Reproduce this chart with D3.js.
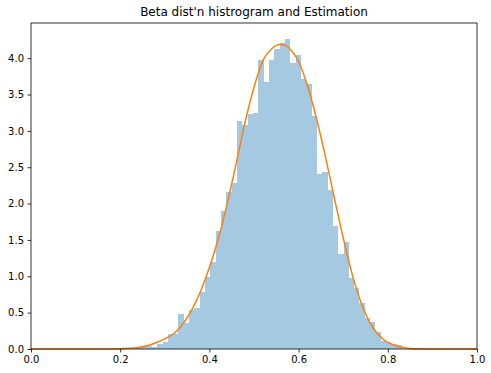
<!DOCTYPE html>
<html>
<head>
<meta charset="utf-8">
<script src="https://cdn.jsdelivr.net/npm/d3@7"></script>
<style>
  html, body { margin: 0; padding: 0; background: #fff; }
  svg { display: block; font-family: "DejaVu Sans", sans-serif; }
</style>
</head>
<body>
<svg id="chart" width="491" height="373"></svg>
<script>
// ---- data ----
const title = "Beta dist'n histrogram and Estimation";
const binEdges = [0.2352, 0.2471, 0.2591, 0.2710, 0.2829, 0.2949, 0.3068, 0.3188, 0.3307, 0.3426,
  0.3546, 0.3665, 0.3784, 0.3904, 0.4023, 0.4142, 0.4262, 0.4381, 0.4501, 0.4620,
  0.4739, 0.4859, 0.4978, 0.5097, 0.5217, 0.5336, 0.5455, 0.5575, 0.5694, 0.5813,
  0.5933, 0.6052, 0.6172, 0.6291, 0.6410, 0.6530, 0.6649, 0.6768, 0.6888, 0.7007,
  0.7126, 0.7246, 0.7365, 0.7485, 0.7604, 0.7723, 0.7843, 0.7962, 0.8081, 0.8201, 0.8320];
const binDensity = [0.008, 0.04, 0.04, 0.03, 0.07, 0.10, 0.21, 0.21, 0.48, 0.36,
  0.54, 0.56, 0.79, 0.99, 1.19, 1.62, 1.90, 2.16, 2.28, 3.14,
  3.08, 3.23, 3.25, 3.97, 3.67, 3.97, 4.12, 4.21, 4.27, 3.94,
  4.05, 3.71, 3.64, 3.21, 2.40, 2.43, 2.18, 1.69, 1.30, 1.47,
  0.98, 0.84, 0.63, 0.42, 0.37, 0.23, 0.11, 0.10, 0.07, 0.05];
const curveX = [0.00, 0.10, 0.15, 0.20, 0.22, 0.24, 0.26, 0.28, 0.30, 0.32, 0.34, 0.36, 0.38,
  0.40, 0.42, 0.44, 0.46, 0.48, 0.50, 0.52, 0.54, 0.56, 0.58, 0.60, 0.62, 0.64, 0.66,
  0.68, 0.70, 0.72, 0.74, 0.76, 0.78, 0.80, 0.82, 0.84, 0.86, 0.90, 0.95, 1.00];
const curveY = [0.000, 0.000, 0.001, 0.004, 0.010, 0.022, 0.045, 0.085, 0.14, 0.21, 0.34, 0.53, 0.79,
  1.12, 1.52, 2.00, 2.55, 3.12, 3.60, 3.97, 4.13, 4.19, 4.13, 3.95, 3.62, 3.17, 2.65,
  2.08, 1.53, 1.03, 0.64, 0.36, 0.19, 0.09, 0.04, 0.015, 0.005, 0.001, 0.000, 0.000];
const xTicks = [0.0, 0.2, 0.4, 0.6, 0.8, 1.0];
const yTicks = [0.0, 0.5, 1.0, 1.5, 2.0, 2.5, 3.0, 3.5, 4.0];

// ---- layout ----
const W = 491, H = 373;
const m = { left: 31, right: 14, top: 23, bottom: 24 };
const svg = d3.select("#chart");
const x = d3.scaleLinear().domain([0, 1]).range([m.left, W - m.right]);
const yMax = d3.max(binDensity) * 1.05;
const y = d3.scaleLinear().domain([0, yMax]).range([H - m.bottom, m.top]);

// bars
const bins = binDensity.map((v, i) => ({ x0: binEdges[i], x1: binEdges[i + 1], v }));
svg.append("g").selectAll("rect").data(bins).enter().append("rect")
  .attr("x", d => x(d.x0))
  .attr("width", d => x(d.x1) - x(d.x0))
  .attr("y", d => y(d.v))
  .attr("height", d => y(0) - y(d.v))
  .attr("fill", "#1f77b4")
  .attr("fill-opacity", 0.4)
  .attr("shape-rendering", "crispEdges");

// fitted curve
const pts = curveX.map((cx, i) => [cx, curveY[i]]);
svg.append("path")
  .datum(pts)
  .attr("fill", "none")
  .attr("stroke", "#ff7f0e")
  .attr("stroke-width", 1.5)
  .attr("d", d3.line().x(d => x(d[0])).y(d => y(d[1])).curve(d3.curveMonotoneX));

// axes
const xAxis = d3.axisBottom(x).tickValues(xTicks).tickFormat(d3.format(".1f")).tickSizeOuter(0).tickSize(3.5).tickPadding(3.5);
const yAxis = d3.axisLeft(y).tickValues(yTicks).tickFormat(d3.format(".1f")).tickSizeOuter(0).tickSize(3.5).tickPadding(3.5);
const gx = svg.append("g").attr("transform", `translate(0,${H - m.bottom})`).call(xAxis);
const gy = svg.append("g").attr("transform", `translate(${m.left},0)`).call(yAxis);
[gx, gy].forEach(g => {
  g.select(".domain").remove();
  g.selectAll(".tick line").attr("stroke", "#000").attr("stroke-width", 0.8);
  g.selectAll(".tick text").attr("fill", "#000").style("font-size", "10px").style("font-family", "DejaVu Sans");
});

// spines
svg.append("rect")
  .attr("x", m.left).attr("y", m.top)
  .attr("width", W - m.left - m.right).attr("height", H - m.top - m.bottom)
  .attr("fill", "none").attr("stroke", "#000").attr("stroke-width", 0.8);

// title
svg.append("text")
  .attr("x", (m.left + W - m.right) / 2)
  .attr("y", m.top - 7)
  .attr("text-anchor", "middle")
  .style("font-size", "12px")
  .style("font-family", "DejaVu Sans")
  .attr("fill", "#000")
  .text(title);
</script>
</body>
</html>
